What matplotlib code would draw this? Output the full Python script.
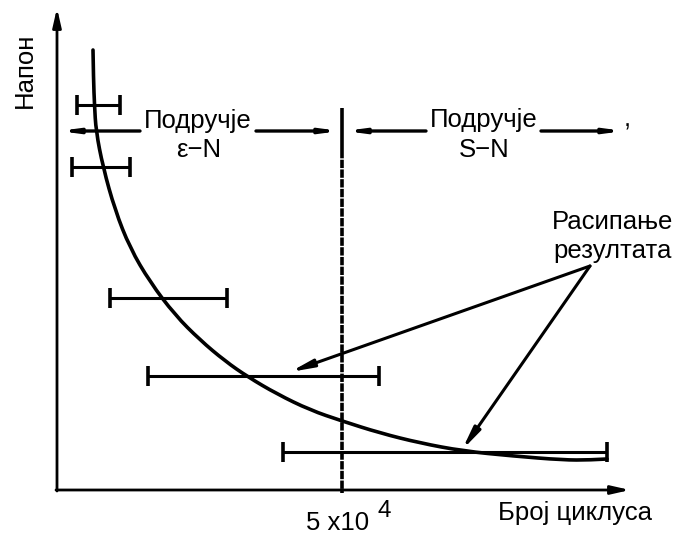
import matplotlib
matplotlib.use("Agg")
import matplotlib.pyplot as plt
from matplotlib.path import Path
from matplotlib.patches import PathPatch

plt.rcParams['font.family'] = ['Liberation Sans', 'DejaVu Sans']
plt.rcParams['lines.scale_dashes'] = False

# Schematic coordinates (drawing units, y grows downward)
curve_x = [93, 93.5, 94.5, 96, 103, 115, 130, 150, 175, 200, 225, 248, 277,
           310, 342, 380, 420, 463, 513, 563, 590, 607]
curve_y = [50, 80, 105, 131, 167, 210, 248, 282, 315, 340, 361, 377, 394,
           410, 421, 433, 443, 451, 456, 460, 460, 459]

# scatter bands (horizontal ranges)
band_y = [105, 167, 298, 376, 452]
band_xmin = [77, 72, 110, 148, 283]
band_xmax = [120, 130, 227, 379, 607]

limit_x = 342          # 5x10^4 boundary
region_y = 131

fig = plt.figure(figsize=(6.78, 5.41), dpi=100)
ax = fig.add_axes([0, 0, 1, 1])
ax.set_xlim(0, 678)
ax.set_ylim(541, 0)
ax.axis('off')

# axes with arrows
ax.annotate('', xy=(57, 8), xytext=(57, 491),
            arrowprops=dict(arrowstyle='-|>,head_length=1.1,head_width=0.25',
                            lw=2.0, color='black', shrinkA=0, shrinkB=0))
ax.annotate('', xy=(630, 490), xytext=(56, 490),
            arrowprops=dict(arrowstyle='-|>,head_length=1.1,head_width=0.25',
                            lw=2.0, color='black', shrinkA=0, shrinkB=0))

# curve: smooth path using the read points as quadratic Bezier controls
pts = list(zip(curve_x, curve_y))
verts = [pts[0]]
codes = [Path.MOVETO]
for i in range(1, len(pts) - 1):
    mid = ((pts[i][0] + pts[i + 1][0]) / 2, (pts[i][1] + pts[i + 1][1]) / 2)
    verts += [pts[i], mid if i < len(pts) - 2 else pts[-1]]
    codes += [Path.CURVE3, Path.CURVE3]
ax.add_patch(PathPatch(Path(verts, codes), fill=False, lw=2.6,
                       edgecolor='black', capstyle='round', joinstyle='round'))

# scatter bands
centers = [(a + b) / 2 for a, b in zip(band_xmin, band_xmax)]
half = [(b - a) / 2 for a, b in zip(band_xmin, band_xmax)]
ax.errorbar(centers, band_y, xerr=half, fmt='none', ecolor='black',
            elinewidth=2.2, capsize=7, capthick=2.6)

# boundary line
ax.plot([limit_x, limit_x], [108, 150], color='black', lw=2.6,
        solid_capstyle='butt')
ax.plot([limit_x, limit_x], [150, 493], color='black', lw=2.6,
        dashes=(6, 1.0), dash_capstyle='butt')

# region arrows
ap = dict(arrowstyle='-|>,head_length=0.9,head_width=0.12', lw=2.4,
          color='black', shrinkA=0, shrinkB=0)
ax.annotate('', xy=(59, region_y), xytext=(140, region_y), arrowprops=ap)
ax.annotate('', xy=(340, region_y), xytext=(256, region_y), arrowprops=ap)
ax.annotate('', xy=(345, region_y), xytext=(426, region_y), arrowprops=ap)
ax.annotate('', xy=(624, region_y), xytext=(541, region_y), arrowprops=ap)

fs = 18.5
ax.text(198, 128, 'Подручје', fontsize=fs, ha='center', va='baseline')
ax.text(199, 157, 'ε−N', fontsize=fs, ha='center', va='baseline')
ax.text(484, 127, 'Подручје', fontsize=fs, ha='center', va='baseline')
ax.text(484, 157, 'S−N', fontsize=fs, ha='center', va='baseline')
ax.text(627, 127, ',', fontsize=fs, ha='center', va='baseline')

ax.text(25, 70, 'Напон', fontsize=fs, rotation=90, ha='center', va='center')
ax.text(575, 520, 'Број циклуса', fontsize=fs, ha='center', va='baseline')
ax.text(338, 530, '5 x10', fontsize=fs, ha='center', va='baseline')
ax.text(384, 517, '4', fontsize=fs * 0.95, ha='center', va='baseline')

ax.text(613, 229, 'Расипање', fontsize=fs, ha='center', va='baseline')
ax.text(613, 258, 'резултата', fontsize=fs, ha='center', va='baseline')

# pointer arrows
pp = dict(arrowstyle='-|>,head_length=1.3,head_width=0.22', lw=2.2,
          color='black', shrinkA=0, shrinkB=0)
ax.annotate('', xy=(290, 372), xytext=(590, 266), arrowprops=pp)
ax.annotate('', xy=(462, 450), xytext=(590, 266), arrowprops=pp)

fig.savefig('out.png', dpi=100)
